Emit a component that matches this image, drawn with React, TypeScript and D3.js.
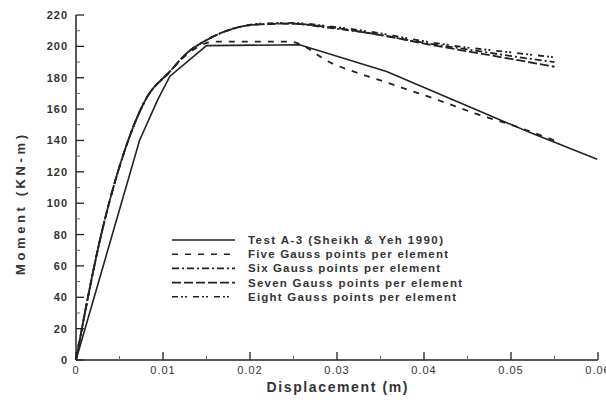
import React from "react";
import * as d3 from "d3";

// Moment–displacement response of column specimen A-3
const testDisp = [0, 0.0073, 0.0094, 0.0108, 0.015, 0.0257, 0.0357, 0.045, 0.0522, 0.0599];
const testMoment = [0, 140, 166, 181, 200.5, 201, 184, 162, 145, 128];

const fiveDisp = [0, 0.0029, 0.006, 0.008, 0.0108, 0.013, 0.016, 0.0245, 0.0295, 0.0357, 0.0415, 0.046, 0.05, 0.055];
const fiveMoment = [0, 80, 140, 166, 184, 196, 203, 203, 189, 177, 166, 157, 150, 140];

const upperDisp = [0, 0.0029, 0.006, 0.008, 0.0108, 0.0128, 0.015, 0.0185, 0.0211, 0.0246, 0.0288, 0.0342, 0.0403, 0.0433, 0.051, 0.055];
const sixMoment = [0, 80, 140, 166, 184, 196, 204, 212, 214, 214.5, 212, 208, 202, 199.5, 193, 190];
const sevenMoment = [0, 80, 140, 166, 184, 196, 204, 212, 214, 214.5, 212.5, 208, 201.5, 198.5, 191, 187];
const eightMoment = [0, 80, 140, 166, 184, 196, 204, 212, 214.5, 215, 213, 209, 203, 200.5, 195.5, 193];

const seriesNames = [
  "Test A-3 (Sheikh & Yeh 1990)",
  "Five Gauss points per element",
  "Six Gauss points per element",
  "Seven Gauss points per element",
  "Eight Gauss points per element",
];
const dashes = ["", "6,7", "7,3,2,3", "9,3", "6,3,2,2,2,6"];
const legendWidths = [195, 200, 192, 214, 208];

const xTicks = [0, 0.01, 0.02, 0.03, 0.04, 0.05, 0.06];
const xTickLabels = ["0", "0.01", "0.02", "0.03", "0.04", "0.05", "0.06"];
const yTicks = [0, 20, 40, 60, 80, 100, 120, 140, 160, 180, 200, 220];

export default function App() {
  const x = d3.scaleLinear().domain([0, 0.06]).range([76, 598]);
  const y = d3.scaleLinear().domain([0, 220]).range([360, 15]);

  // measured data joined point to point; analyses drawn as smooth curves
  const lineTest = d3
    .line<[number, number]>()
    .x((d) => x(d[0]))
    .y((d) => y(d[1]));
  const lineModel = d3
    .line<[number, number]>()
    .x((d) => x(d[0]))
    .y((d) => y(d[1]))
    .curve(d3.curveMonotoneX);

  const zip = (a: number[], b: number[]) => a.map((v, i) => [v, b[i]] as [number, number]);
  const series = [
    zip(testDisp, testMoment),
    zip(fiveDisp, fiveMoment),
    zip(upperDisp, sixMoment),
    zip(upperDisp, sevenMoment),
    zip(upperDisp, eightMoment),
  ];

  const xMinor = d3.range(0, 0.0601, 0.005).filter((_, i) => i % 2 === 1);
  const yMinor = d3.range(10, 220, 20);
  const font = "Arial, 'Liberation Sans', sans-serif";
  const ink = "#222";

  return (
    <svg
      width={606}
      height={400}
      style={{ position: "absolute", left: 0, top: 0, background: "#fff" }}
      fontFamily={font}
    >
      {/* axes */}
      <line x1={x(0)} x2={x(0)} y1={y(0)} y2={y(220)} stroke={ink} strokeWidth={1.5} />
      <line x1={x(0)} x2={x(0.06)} y1={y(0)} y2={y(0)} stroke={ink} strokeWidth={1.5} />
      {yTicks.map((t) => (
        <g key={"y" + t}>
          <line x1={x(0)} x2={x(0) + 8} y1={y(t)} y2={y(t)} stroke={ink} strokeWidth={1.3} />
          <text
            x={68}
            y={y(t) + 4}
            textAnchor="end"
            fontSize={11}
            letterSpacing={1}
            fill="#333"
            fontWeight="bold"
          >
            {t}
          </text>
        </g>
      ))}
      {yMinor.map((t) => (
        <line key={"ym" + t} x1={x(0)} x2={x(0) + 4} y1={y(t)} y2={y(t)} stroke="#666" strokeWidth={1} />
      ))}
      {xTicks.map((t, i) => (
        <g key={"x" + t}>
          <line x1={x(t)} x2={x(t)} y1={y(0)} y2={y(0) - 8} stroke={ink} strokeWidth={1.3} />
          <text
            x={x(t)}
            y={374}
            textAnchor="middle"
            fontSize={11}
            letterSpacing={1}
            fill="#333"
          >
            {xTickLabels[i]}
          </text>
        </g>
      ))}
      {xMinor.map((t) => (
        <line key={"xm" + t} x1={x(t)} x2={x(t)} y1={y(0)} y2={y(0) - 4} stroke="#666" strokeWidth={1} />
      ))}

      {/* axis titles */}
      <text x={337} y={392} textAnchor="middle" fontSize={14} fontWeight="bold" fill="#333" textLength={141} lengthAdjust="spacing">
        Displacement (m)
      </text>
      <text
        transform="translate(25,205) rotate(-90)"
        textAnchor="middle"
        fontSize={13}
        fontWeight="bold"
        fill="#333"
        textLength={140}
        lengthAdjust="spacing"
      >
        Moment (KN-m)
      </text>

      {/* curves */}
      {series.map((s, i) => (
        <path
          key={"s" + i}
          d={(i === 0 ? lineTest(s) : lineModel(s)) || ""}
          fill="none"
          stroke={ink}
          strokeWidth={i === 0 ? 1.6 : 1.8}
          strokeDasharray={dashes[i] || undefined}
        />
      ))}

      {/* legend */}
      {seriesNames.map((name, i) => {
        const ly = 240 + i * 14.2;
        return (
          <g key={"l" + i}>
            <line
              x1={172}
              x2={235}
              y1={ly}
              y2={ly}
              stroke={ink}
              strokeWidth={1.6}
              strokeDasharray={dashes[i] || undefined}
            />
            <text
              x={248}
              y={ly + 4}
              fontSize={11.5}
              fontWeight="bold"
              fill="#333"
              textLength={legendWidths[i]}
              lengthAdjust="spacing"
            >
              {name}
            </text>
          </g>
        );
      })}
    </svg>
  );
}
